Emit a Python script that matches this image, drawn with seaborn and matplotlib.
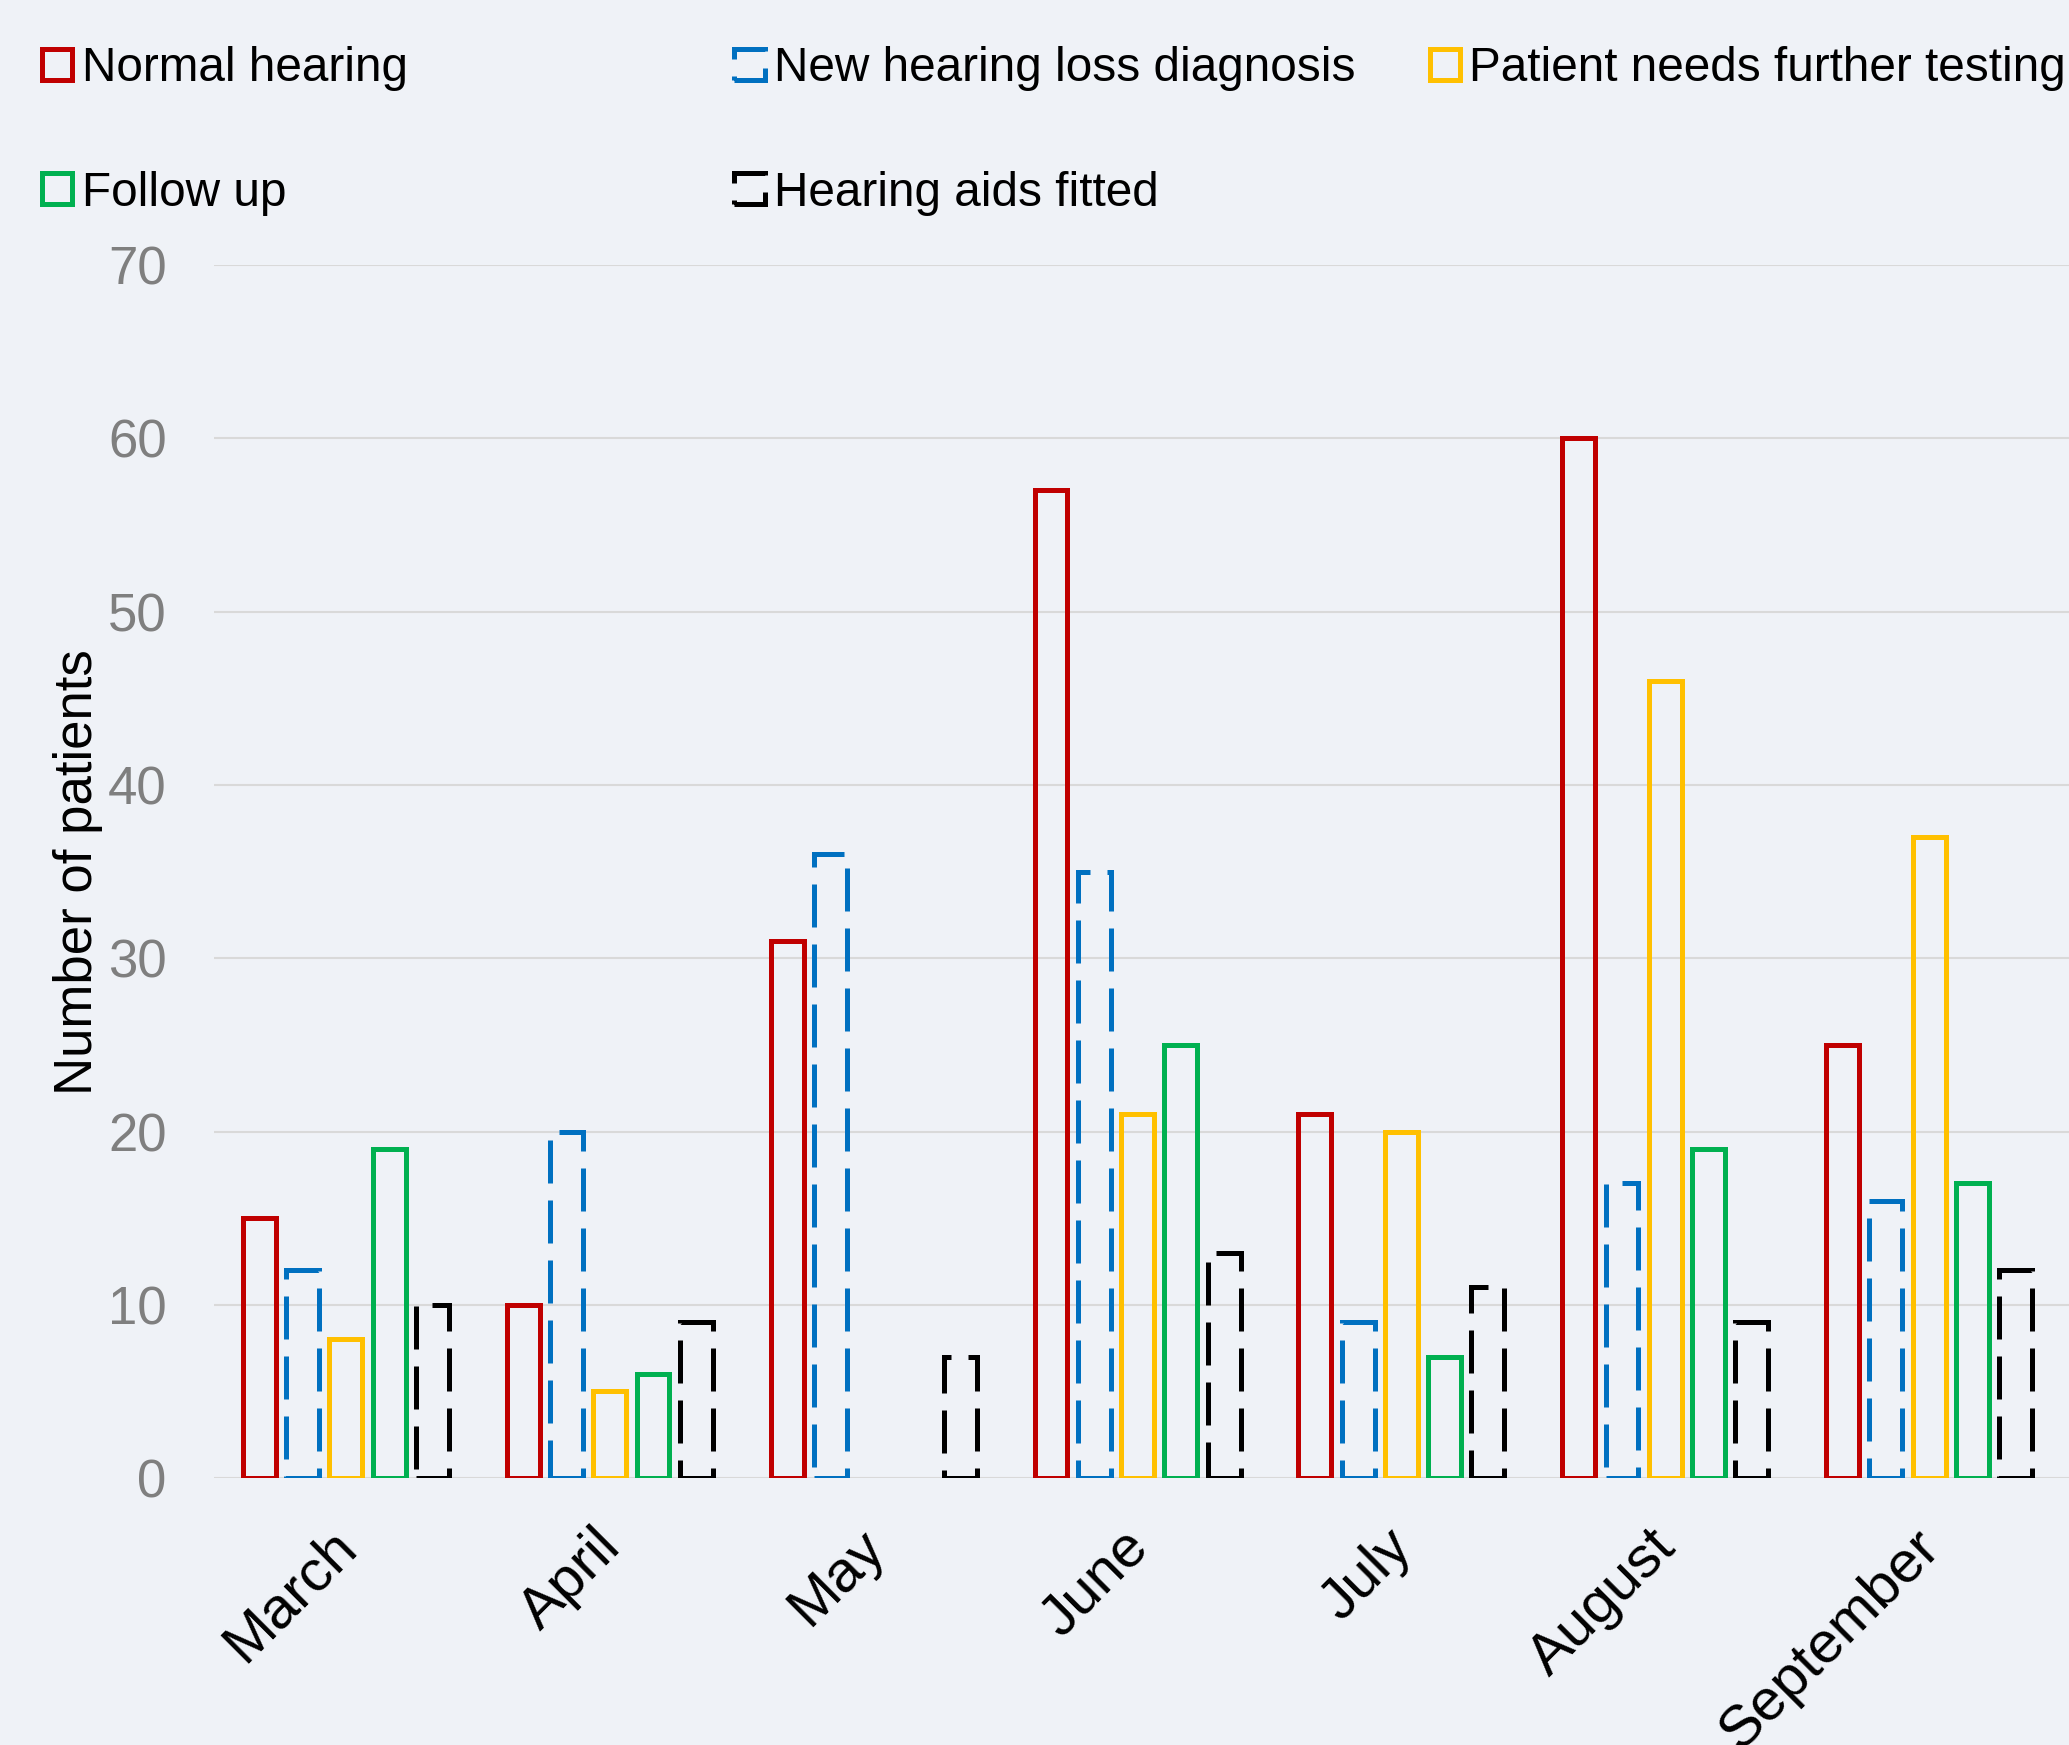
import numpy as np
import pandas as pd
import matplotlib.pyplot as plt
import matplotlib.patches as mpatches
import matplotlib.transforms as mtransforms
import seaborn as sns

# data
months = ['March', 'April', 'May', 'June', 'July', 'August', 'September']
categories = ['Normal hearing', 'New hearing loss diagnosis', 'Patient needs further testing',
              'Follow up', 'Hearing aids fitted']
normal_hearing = [15, 10, 31, 57, 21, 60, 25]
new_diagnosis = [12, 20, 36, 35, 9, 17, 16]
further_testing = [8, 5, 0, 21, 20, 46, 37]
follow_up = [19, 6, 0, 25, 7, 19, 17]
aids_fitted = [10, 9, 7, 13, 11, 9, 12]
y_ticks = [0, 10, 20, 30, 40, 50, 60, 70]

colors = ['#C00000', '#0070C0', '#FFC000', '#00B050', '#000000']
dashed = [False, True, False, False, True]

series = [normal_hearing, new_diagnosis, further_testing, follow_up, aids_fitted]
df = pd.DataFrame({
    'month': np.repeat([months], len(categories), axis=0).ravel(),
    'category': np.repeat(categories, len(months)),
    'count': np.concatenate(series),
})

BG = '#EFF2F7'
LW = 1.8
DASH = (0, (8.6, 3.4))

sns.set_style('white', {'axes.facecolor': BG, 'figure.facecolor': BG})
plt.rcParams['font.family'] = ['Liberation Sans', 'DejaVu Sans']
plt.rcParams['text.color'] = 'black'

fig = plt.figure(figsize=(2069 / 200, 1745 / 200), dpi=200)
ax = fig.add_axes([0.1034, 0.153, 0.8966, 0.695])

sns.barplot(data=df, x='month', y='count', hue='category', order=months, hue_order=categories,
            palette=colors, fill=False, linewidth=LW, width=0.82, gap=0.24,
            errorbar=None, legend=False, ax=ax)

# dashed outlines for two series, hide empty bars
for cont, dsh in zip(ax.containers, dashed):
    for p in cont:
        p.set_linewidth(LW)
        p.set_joinstyle('miter')
        if dsh:
            p.set_linestyle(DASH)
        if p.get_height() == 0:
            p.set_visible(False)

ax.set_xlim(-0.5, 6.53)
ax.set_ylim(0, 70)
ax.set_yticks(y_ticks)
ax.yaxis.grid(True, color='#D9D9D9', linewidth=0.75)
ax.set_axisbelow(True)
for s in ax.spines.values():
    s.set_visible(False)

ax.tick_params(axis='y', length=0, pad=17, labelsize=19, labelcolor='#7F7F7F')
ax.tick_params(axis='x', length=0, pad=15, labelsize=21, labelcolor='black')
offset = mtransforms.ScaledTranslation(-17 / 200, 0, fig.dpi_scale_trans)
for lab in ax.get_xticklabels():
    lab.set_rotation(45)
    lab.set_ha('right')
    lab.set_va('top')
    lab.set_rotation_mode('anchor')
    lab.set_transform(lab.get_transform() + offset)

ax.set_xlabel('')
ax.set_ylabel('Number of patients', fontsize=19, color='black')
ax.yaxis.set_label_coords(-0.060, 0.5)

# legend in three columns, placed like the original
handles = [mpatches.Patch(facecolor='none', edgecolor=c, linewidth=LW,
                          linestyle=DASH if d else '-')
           for c, d in zip(colors, dashed)]
columns = [[0, 3], [1, 4], [2]]
col_x = [0.0203, 0.355, 0.691]
for idx, x in zip(columns, col_x):
    fig.legend([handles[i] for i in idx], [categories[i] for i in idx],
               loc='upper left', bbox_to_anchor=(x, 0.9735), frameon=False,
               fontsize=17.2, labelcolor='black', handlelength=0.63, handleheight=0.63,
               handletextpad=0.2, labelspacing=1.66, borderpad=0, borderaxespad=0)

fig.savefig('out.png', dpi=200, facecolor=BG)
